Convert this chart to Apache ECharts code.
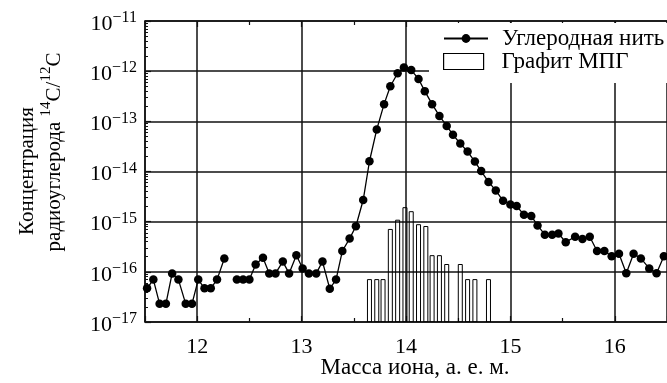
<!DOCTYPE html>
<html><head><meta charset="utf-8">
<script src="https://cdn.jsdelivr.net/npm/echarts@6/dist/echarts.min.js"></script>
<style>html,body{margin:0;padding:0;background:#fff}#c{width:667px;height:383px}</style>
</head><body><div id="c"></div>
<script>
// ---- data ----
const massCarbon = [11.52,11.58,11.64,11.70,11.76,11.82,11.89,11.95,12.01,12.07,12.13,12.19,12.26,12.32,12.38,12.44,12.50,12.56,12.63,12.69,12.75,12.82,12.88,12.95,13.01,13.07,13.14,13.20,13.27,13.33,13.39,13.46,13.52,13.59,13.65,13.72,13.79,13.85,13.92,13.98,14.05,14.12,14.18,14.25,14.32,14.39,14.45,14.52,14.59,14.66,14.72,14.79,14.86,14.93,15.00,15.06,15.13,15.20,15.26,15.33,15.40,15.46,15.53,15.62,15.69,15.76,15.83,15.90,15.97,16.04,16.11,16.18,16.25,16.33,16.40,16.47];
const concCarbon = [4.7e-17,7e-17,2.3e-17,2.3e-17,9.3e-17,7e-17,2.3e-17,2.3e-17,7e-17,4.7e-17,4.7e-17,7e-17,1.85e-16,null,7e-17,7e-17,7e-17,1.4e-16,1.9e-16,9.3e-17,9.3e-17,1.6e-16,9.3e-17,2.15e-16,1.17e-16,9.3e-17,9.3e-17,1.6e-16,4.6e-17,7e-17,2.6e-16,4.6e-16,8.1e-16,2.7e-15,1.6e-14,6.9e-14,2.2e-13,5e-13,9.1e-13,1.18e-12,1.05e-12,7e-13,4e-13,2.2e-13,1.28e-13,8.1e-14,5.4e-14,3.6e-14,2.5e-14,1.58e-14,1.02e-14,6.2e-15,4.2e-15,2.6e-15,2.2e-15,2.05e-15,1.37e-15,1.3e-15,8.4e-16,5.5e-16,5.5e-16,5.8e-16,3.9e-16,5e-16,4.5e-16,5e-16,2.6e-16,2.6e-16,2.05e-16,2.3e-16,9.4e-17,2.3e-16,1.85e-16,1.17e-16,9.4e-17,2.05e-16];
const massGraphite = [13.65,13.72,13.78,13.85,13.92,13.99,14.05,14.12,14.19,14.25,14.32,14.39,14.52,14.59,14.66,14.79];
const concGraphite = [7e-17,7e-17,7e-17,7e-16,1.07e-15,1.9e-15,1.58e-15,8.7e-16,8e-16,2.1e-16,2.1e-16,1.4e-16,1.4e-16,7e-17,7e-17,7e-17];
const seriesNames = ['Углеродная нить', 'Графит МПГ'];
const xAxisTitle = 'Масса иона, а. е. м.';
const yAxisTitle1 = 'Концентрация';
const yAxisTitle2 = ['радиоуглерода ', '14', 'C/', '12', 'C'];
const yMin = 1e-17, yMax = 1e-11, xMin = 11.5, xMax = 16.5;

// ---- chart ----
const FONT = 'Liberation Serif';
const INK = '#111';
const chart = echarts.init(document.getElementById('c'));
const lineData = massCarbon.map((m, i) => [m, concCarbon[i] == null ? '-' : concCarbon[i]]);
const barData = massGraphite.map((m, i) => [m, concGraphite[i]]);

const axisCommon = {
  type: 'value', min: xMin, max: xMax, splitNumber: 5,
  axisLine: { lineStyle: { color: INK, width: 1.5 } },
  axisTick: { inside: true, length: 6, lineStyle: { color: INK, width: 1.2 } },
  minorTick: { show: true, splitNumber: 2, length: 4, lineStyle: { color: INK, width: 1.2 } }
};

chart.setOption({
  animation: false,
  backgroundColor: '#fff',
  grid: { left: 145, top: 21, width: 525, height: 301 },
  xAxis: [
    Object.assign({}, axisCommon, {
      position: 'bottom',
      splitLine: { show: true, lineStyle: { color: INK, width: 1.5 } },
      axisLabel: { fontFamily: FONT, fontSize: 22, color: '#000', margin: 14, showMinLabel: false, showMaxLabel: false }
    }),
    Object.assign({}, axisCommon, {
      position: 'top',
      splitLine: { show: false },
      axisLabel: { show: false }
    })
  ],
  yAxis: {
    type: 'log', logBase: 10, min: yMin, max: yMax,
    axisLine: { lineStyle: { color: INK, width: 1.5 } },
    axisTick: { inside: true, length: 6, lineStyle: { color: INK, width: 1.2 } },
    minorTick: { show: true, splitNumber: 9, length: 3, lineStyle: { color: INK, width: 1 } },
    splitLine: { show: true, lineStyle: { color: INK, width: 1.5 } },
    axisLabel: {
      margin: 8,
      formatter: v => '{b|10}{s|−' + (-Math.round(Math.log10(v))) + '}',
      rich: {
        b: { fontFamily: FONT, fontSize: 22, color: '#000', padding: [6, 0, 0, 0] },
        s: { fontFamily: FONT, fontSize: 16, color: '#000', verticalAlign: 'top', padding: [3, 0, 0, 0] }
      }
    }
  },
  legend: [
    {
      data: [seriesNames[0]], orient: 'vertical', left: 443, top: 27,
      itemWidth: 44, itemHeight: 11, padding: 0, z: 5,
      textStyle: { fontFamily: FONT, fontSize: 23, color: '#000', padding: [0, 0, 0, 9] }
    },
    {
      data: [{ name: seriesNames[1], icon: 'rect', itemStyle: { color: '#fff', borderColor: '#000', borderWidth: 1.2 } }],
      orient: 'vertical', left: 443, top: 50,
      itemWidth: 40, itemHeight: 16, padding: 0, z: 5,
      textStyle: { fontFamily: FONT, fontSize: 23, color: '#000', padding: [0, 0, 0, 13] }
    }
  ],
  graphic: [
    { type: 'rect', z: 3, shape: { x: 429, y: 23, width: 250, height: 60 }, style: { fill: '#fff' } },
    { type: 'text', x: 27, y: 171, rotation: Math.PI / 2, z: 5,
      style: { text: yAxisTitle1, font: '21px "Liberation Serif"', fill: '#000', align: 'center', verticalAlign: 'middle' } },
    { type: 'text', x: 52, y: 152, rotation: Math.PI / 2, z: 5,
      style: {
        text: '{a|' + yAxisTitle2[0] + '}{s|' + yAxisTitle2[1] + '}{a|' + yAxisTitle2[2] + '}{s|' + yAxisTitle2[3] + '}{a|' + yAxisTitle2[4] + '}',
        align: 'center', verticalAlign: 'middle',
        rich: {
          a: { fontFamily: FONT, fontSize: 21, fill: '#000', color: '#000', padding: [5, 0, 0, 0] },
          s: { fontFamily: FONT, fontSize: 15, fill: '#000', color: '#000', verticalAlign: 'top' }
        }
      } },
    { type: 'text', x: 415, y: 368, z: 5,
      style: { text: xAxisTitle, font: '23px "Liberation Serif"', fill: '#000', align: 'center', verticalAlign: 'middle' } }
  ],
  series: [
    {
      name: seriesNames[0], type: 'line', data: lineData, z: 4,
      symbol: 'circle', symbolSize: 8.5, connectNulls: false,
      itemStyle: { color: '#000' }, lineStyle: { color: '#000', width: 1.3 }
    },
    {
      name: seriesNames[1], type: 'custom', data: barData, z: 1, clip: true,
      itemStyle: { color: '#fff', borderColor: '#000' },
      renderItem: (params, api) => {
        const top = api.coord([api.value(0), api.value(1)]);
        const bot = api.coord([api.value(0), yMin]);
        const w = 4;
        return { type: 'rect', shape: { x: top[0] - w / 2, y: top[1], width: w, height: bot[1] - top[1] },
                 style: { fill: 'rgba(255,255,255,0)', stroke: '#000', lineWidth: 1 } };
      }
    }
  ]
});
</script>
</body></html>
